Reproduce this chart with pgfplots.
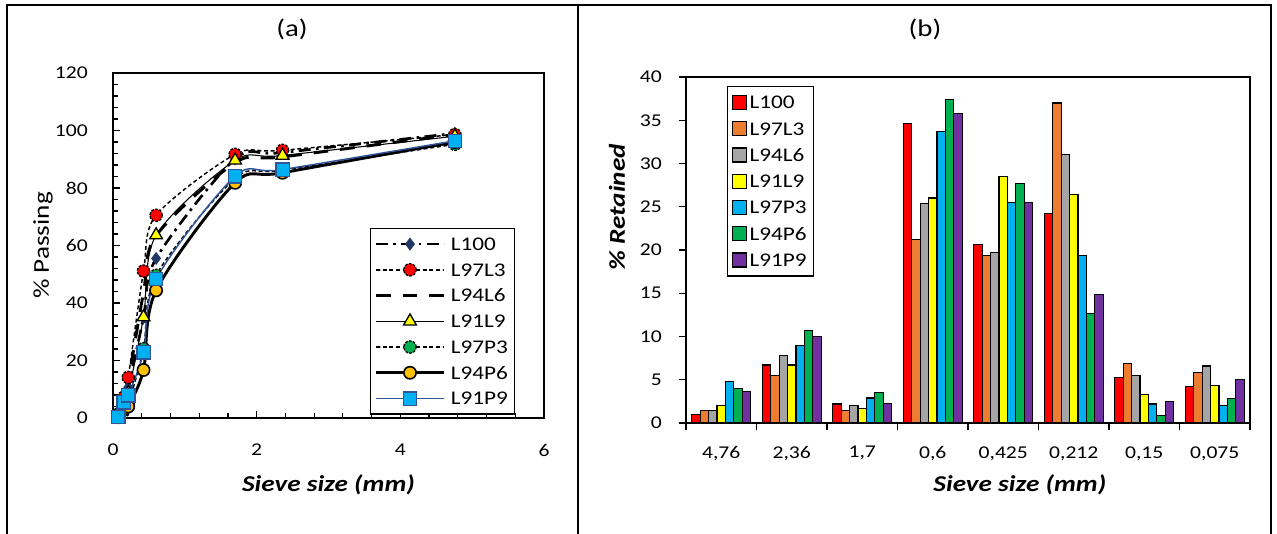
\documentclass[border=0pt]{standalone}
\usepackage{pgfplots}
\pgfplotsset{compat=1.18}
\usepackage{pgfplotstable}
\usepackage{fontspec}
\setmainfont{Carlito}[FakeStretch=1.2]
\definecolor{cRed}{HTML}{FF0000}
\definecolor{cOrange}{HTML}{ED7D31}
\definecolor{cGray}{HTML}{A5A5A5}
\definecolor{cYellow}{HTML}{FFFF00}
\definecolor{cBlue}{HTML}{00B0F0}
\definecolor{cGreen}{HTML}{00B050}
\definecolor{cPurple}{HTML}{7030A0}
\definecolor{cNavy}{HTML}{1F3864}
\definecolor{cGold}{HTML}{FFC000}
\definecolor{cSteel}{HTML}{2F5597}

\pgfplotstableread{
x L100 L97L3 L94L6 L91L9 L97P3 L94P6 L91P9
0.075 1.2 1.4 0.6 1.1 0.5 0.3 0.4
0.15 5.4 7.2 7.2 5.4 2.5 3.1 5.4
0.212 10.7 14.1 12.7 8.7 4.7 4.0 7.9
0.425 34.9 51.1 43.7 35.1 24.1 16.7 22.8
0.6 55.5 70.5 63.4 63.6 49.6 44.4 48.3
1.7 90.1 91.7 88.8 89.6 83.3 81.8 84.1
2.36 92.3 93.1 90.8 91.3 86.2 85.3 86.4
4.76 99.0 98.6 98.6 98.0 95.2 96.0 96.4
}\passing

\pgfplotstableread{
cat L100 L97L3 L94L6 L91L9 L97P3 L94P6 L91P9
0 1.0 1.4 1.4 2.0 4.8 4.0 3.6
1 6.7 5.5 7.8 6.7 9.0 10.7 10.0
2 2.2 1.4 2.0 1.7 2.9 3.5 2.3
3 34.6 21.2 25.4 26.0 33.7 37.4 35.8
4 20.6 19.4 19.7 28.5 25.5 27.7 25.5
5 24.2 37.0 31.0 26.4 19.4 12.7 14.9
6 5.3 6.9 5.5 3.3 2.2 0.9 2.5
7 4.2 5.8 6.6 4.3 2.0 2.8 5.0
}\retained

\pgfplotsset{
  every tick label/.append style={font=\fontsize{13.5}{15}\selectfont},
  /pgf/number format/assume math mode=true,
}

\begin{document}
\begin{tikzpicture}
\useasboundingbox (0,0) rectangle (957.75pt,400.5pt);
\draw[line width=1.5pt] (5.25pt,0) -- (5.25pt,396.75pt) -- (953.25pt,396.75pt) -- (953.25pt,0);
\draw[line width=1.5pt] (433.5pt,0) -- (433.5pt,396.75pt);
\node[font=\fontsize{18}{20}\selectfont] at (219pt,378.75pt) {(a)};
\node[font=\fontsize{18}{20}\selectfont] at (693.75pt,378.75pt) {(b)};

% ---------------- (a) ----------------
\begin{axis}[
  at={(84.75pt,87pt)}, anchor=south west, scale only axis,
  width=323.25pt, height=258.75pt,
  xmin=0, xmax=6, ymin=0, ymax=120,
  xtick={0,2,4,6}, ytick={0,20,...,120},
  minor x tick num=4, minor y tick num=4,
  tick align=inside, tick pos=left,
  major tick length=5pt, minor tick length=3.5pt,
  every tick/.style={black, line width=0.9pt},
  axis line style={line width=1.2pt},
  xticklabel style={anchor=center, yshift=-24pt},
  yticklabel style={anchor=east, inner sep=0pt, xshift=-18.75pt},
  xlabel={\textbf{\textit{Sieve size (mm)}}},
  xlabel style={at={(rel axis cs:0.5,-0.194)}, anchor=center, font=\fontsize{17}{19}\selectfont},
  ylabel={\% Passing},
  ylabel style={at={(rel axis cs:-0.1624,0.5)}, anchor=center, font=\fontsize{17}{19}\selectfont},
  clip=false,
  legend style={at={(rel axis cs:0.596,0.551)}, anchor=north west, draw=black, line width=1pt,
    font=\fontsize{14.5}{16}\selectfont, row sep=0pt, inner xsep=3pt, inner ysep=2pt,
    nodes={text height=9.5pt, text depth=0pt, inner ysep=4.9pt}},
  legend cell align=left,
  legend image code/.code={\draw[mark repeat=2,mark phase=2,#1] plot coordinates {(2pt,0pt) (27.5pt,0pt) (53pt,0pt)};
    \path (55pt,0pt);},
]
\addplot[black, line width=2pt, dash pattern=on 9pt off 4pt on 2pt off 4pt, smooth,
  mark=diamond*, mark size=4.5pt, mark options={solid, fill=cNavy, draw=cNavy, line width=0.5pt}]
  table[x=x, y=L100] {\passing};
\addlegendentry{L100}
\addplot[black, line width=1.1pt, dash pattern=on 3pt off 2pt, smooth,
  mark=*, mark size=4.6pt, mark options={fill=cRed, draw=black, line width=1pt, dash pattern=on 2pt off 1pt}]
  table[x=x, y=L97L3] {\passing};
\addlegendentry{L97L3}
\addplot[black, line width=2.2pt, dash pattern=on 11pt off 9pt, smooth]
  table[x=x, y=L94L6] {\passing};
\addlegendentry{L94L6}
\addplot[black, line width=0.8pt, smooth,
  mark=triangle*, mark size=5.5pt, mark options={fill=cYellow, draw=black, line width=1pt}]
  table[x=x, y=L91L9] {\passing};
\addlegendentry{L91L9}
\addplot[black, line width=1.1pt, dash pattern=on 3pt off 2pt, smooth,
  mark=*, mark size=4.6pt, mark options={fill=cGreen, draw=black, line width=1pt, dash pattern=on 2pt off 1pt}]
  table[x=x, y=L97P3] {\passing};
\addlegendentry{L97P3}
\addplot[black, line width=2.2pt, smooth,
  mark=*, mark size=4.6pt, mark options={fill=cGold, draw=black, line width=1.2pt}]
  table[x=x, y=L94P6] {\passing};
\addlegendentry{L94P6}
\addplot[cSteel, line width=1.1pt, smooth,
  mark=square*, mark size=5pt, mark options={fill=cBlue, draw=cSteel, line width=1pt}]
  table[x=x, y=L91P9] {\passing};
\addlegendentry{L91P9}
\end{axis}

% ---------------- (b) ----------------
\begin{axis}[
  at={(514.5pt,83.25pt)}, anchor=south west, scale only axis,
  width=423pt, height=259.5pt,
  ybar=0pt, bar width=6.3pt,
  xmin=-0.5, xmax=7.5, ymin=0, ymax=40,
  xtick={0,...,7},
  xticklabels={{4,76},{2,36},{1,7},{0,6},{0,425},{0,212},{0,15},{0,075}},
  minor xtick={-0.5,0.5,...,7.5},
  ytick={0,5,...,40},
  tick align=outside, tick pos=left,
  major x tick style={draw=none},
  major tick length=5.5pt, minor tick length=5.5pt,
  every tick/.style={black, line width=0.9pt},
  axis line style={line width=1.2pt},
  xticklabel style={anchor=center, yshift=-17.25pt},
  yticklabel style={anchor=east, inner sep=0pt, xshift=-12.5pt},
  xlabel={\textbf{\textit{Sieve size (mm)}}},
  xlabel style={at={(rel axis cs:0.592,-0.179)}, anchor=center, font=\fontsize{17}{19}\selectfont},
  ylabel={\textbf{\textit{\% Retained}}},
  ylabel style={at={(rel axis cs:-0.1223,0.624)}, anchor=center, font=\fontsize{17}{19}\selectfont},
  clip=false,
  legend style={at={(rel axis cs:0.0727,0.974)}, anchor=north west, draw=black, line width=1pt,
    font=\fontsize{14.5}{16}\selectfont, row sep=0pt, inner xsep=3pt, inner ysep=2pt,
    nodes={text height=9.5pt, text depth=0pt, inner ysep=5.1pt}},
  legend cell align=left,
  legend image code/.code={\draw[#1, line width=0.9pt] (3pt,-5.25pt) rectangle (13.5pt,5.25pt);},
]
\addplot[fill=cRed, draw=black, line width=0.9pt] table[x=cat, y=L100] {\retained};
\addlegendentry{L100}
\addplot[fill=cOrange, draw=black, line width=0.9pt] table[x=cat, y=L97L3] {\retained};
\addlegendentry{L97L3}
\addplot[fill=cGray, draw=black, line width=0.9pt] table[x=cat, y=L94L6] {\retained};
\addlegendentry{L94L6}
\addplot[fill=cYellow, draw=black, line width=0.9pt] table[x=cat, y=L91L9] {\retained};
\addlegendentry{L91L9}
\addplot[fill=cBlue, draw=black, line width=0.9pt] table[x=cat, y=L97P3] {\retained};
\addlegendentry{L97P3}
\addplot[fill=cGreen, draw=black, line width=0.9pt] table[x=cat, y=L94P6] {\retained};
\addlegendentry{L94P6}
\addplot[fill=cPurple, draw=black, line width=0.9pt] table[x=cat, y=L91P9] {\retained};
\addlegendentry{L91P9}
\end{axis}
\end{tikzpicture}
\end{document}
